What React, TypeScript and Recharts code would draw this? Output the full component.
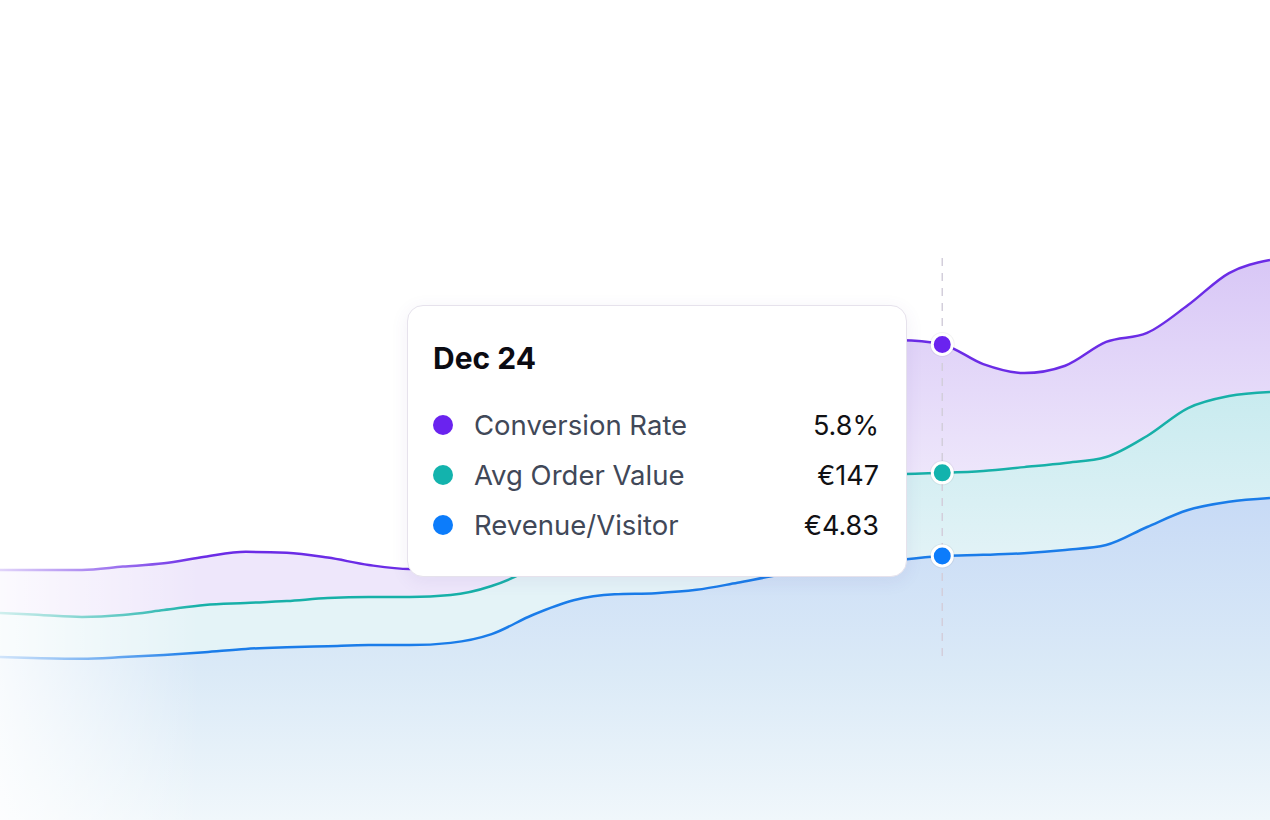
import React from "react";
import { ComposedChart, Area, Line, XAxis, YAxis } from "recharts";

// daily points, Dec 1 -> Jan 1
const dates = [
  "Dec 1", "Dec 2", "Dec 3", "Dec 4", "Dec 5", "Dec 6", "Dec 7", "Dec 8",
  "Dec 9", "Dec 10", "Dec 11", "Dec 12", "Dec 13", "Dec 14", "Dec 15", "Dec 16",
  "Dec 17", "Dec 18", "Dec 19", "Dec 20", "Dec 21", "Dec 22", "Dec 23", "Dec 24",
  "Dec 25", "Dec 26", "Dec 27", "Dec 28", "Dec 29", "Dec 30", "Dec 31", "Jan 1",
];

// conversion rate, %
const conversionRate = [
  3.05, 3.05, 3.05, 3.09, 3.13, 3.21, 3.27, 3.26, 3.2, 3.11, 3.06, 3.17, 3.54, 4.27, 5.0, 5.49,
  5.73, 5.83, 5.85, 5.85, 5.85, 5.85, 5.85, 5.8, 5.56, 5.45, 5.54, 5.83, 5.94, 6.28, 6.67, 6.83,
];

// average order value, EUR
const avgOrderValue = [
  95.7, 95, 94.3, 95, 96.8, 98.7, 99.4, 100.1, 101.2, 101.6, 101.6, 102.3, 105.6, 112.2, 122.4, 131.6,
  137.8, 141.5, 143.7, 144.8, 145.5, 145.9, 146.6, 147, 147.7, 149.1, 150.6, 152.8, 160.5, 170.7, 175.1, 176.6,
];

// revenue per visitor, EUR
const revenuePerVisitor = [
  2.98, 2.96, 2.95, 2.98, 3.02, 3.07, 3.13, 3.16, 3.18, 3.2, 3.2, 3.24, 3.4, 3.75, 4.02, 4.13,
  4.15, 4.21, 4.34, 4.48, 4.57, 4.66, 4.76, 4.83, 4.85, 4.88, 4.94, 5.03, 5.36, 5.67, 5.82, 5.89,
];

// hovered day
const activeIndex = 23;

const data = dates.map((date, i) => ({
  date,
  conversion: conversionRate[i],
  aov: avgOrderValue[i],
  rpv: revenuePerVisitor[i],
}));

const SERIES = [
  { key: "conversion", axis: "conv", name: "Conversion Rate", color: "#6a23ef", line: "#6b2ce6", fill: "url(#fillPurple)", values: conversionRate, fmt: (v: number) => `${v.toFixed(1)}%` },
  { key: "aov", axis: "aov", name: "Avg Order Value", color: "#13b3ad", line: "#17b0a8", fill: "url(#fillTeal)", values: avgOrderValue, fmt: (v: number) => `€${Math.round(v)}` },
  { key: "rpv", axis: "rpv", name: "Revenue/Visitor", color: "#0c7cfb", line: "#1a7ce9", fill: "url(#fillBlue)", values: revenuePerVisitor, fmt: (v: number) => `€${v.toFixed(2)}` },
];

const font = "Inter, 'Open Sans', sans-serif";

// marker for the hovered day; the first series also draws the dashed guide
function makeDot(color: string, withGuide: boolean) {
  return (p: any) => {
    if (p.index !== activeIndex) return <g key={`d${p.index}`} />;
    return (
      <g key={`d${p.index}`}>
        {withGuide && (
          <line x1={p.cx} x2={p.cx} y1={258} y2={660} stroke="#d3cedb" strokeWidth={1.5} strokeDasharray="8 7" />
        )}
        <circle cx={p.cx} cy={p.cy} r={12.5} fill="#000" fillOpacity={0.05} />
        <circle cx={p.cx} cy={p.cy} r={10} fill={color} stroke="#fff" strokeWidth={3} />
      </g>
    );
  };
}

function TooltipCard() {
  return (
    <div
      style={{
        position: "absolute",
        left: 407,
        top: 305,
        width: 500,
        height: 272,
        boxSizing: "border-box",
        background: "#fff",
        border: "1px solid #e6e2ec",
        borderRadius: 16,
        boxShadow: "0 4px 18px rgba(90,70,150,0.08)",
        padding: "34px 27px 0 25px",
        fontFamily: font,
      }}
    >
      <div style={{ fontSize: 30, fontWeight: 700, color: "#0b0b12", lineHeight: "36px", marginLeft: 0 }}>
        {dates[activeIndex]}
      </div>
      <div style={{ marginTop: 24 }}>
        {SERIES.map((s) => (
          <div key={s.key} style={{ display: "flex", alignItems: "center", height: 50 }}>
            <span style={{ width: 20, height: 20, borderRadius: 10, background: s.color, flexShrink: 0 }} />
            <span style={{ marginLeft: 21, fontSize: 27.5, color: "#414858", flex: 1 }}>{s.name}</span>
            <span style={{ fontSize: 27, color: "#111114" }}>{s.fmt(s.values[activeIndex])}</span>
          </div>
        ))}
      </div>
    </div>
  );
}

export default function App() {
  return (
    <div style={{ position: "absolute", left: 0, top: 0, width: 1270, height: 820, background: "#fff", overflow: "hidden" }}>
      <ComposedChart width={1270} height={820} data={data} margin={{ top: 0, right: 0, bottom: 0, left: 0 }}>
        <defs>
          <linearGradient id="fillPurple" gradientUnits="userSpaceOnUse" x1="0" y1="260" x2="0" y2="480">
            <stop offset="0%" stopColor="#d8c7f6" />
            <stop offset="100%" stopColor="#eee7fb" />
          </linearGradient>
          <linearGradient id="fillTeal" gradientUnits="userSpaceOnUse" x1="0" y1="390" x2="0" y2="570">
            <stop offset="0%" stopColor="#c8ebef" />
            <stop offset="100%" stopColor="#e4f3f7" />
          </linearGradient>
          <linearGradient id="fillBlue" gradientUnits="userSpaceOnUse" x1="0" y1="495" x2="0" y2="820">
            <stop offset="0%" stopColor="#c7daf6" />
            <stop offset="55%" stopColor="#dbeaf7" />
            <stop offset="100%" stopColor="#f0f7fb" />
          </linearGradient>
        </defs>
        <XAxis dataKey="date" hide />
        <YAxis yAxisId="conv" hide domain={[0, 10]} />
        <YAxis yAxisId="aov" hide domain={[20, 320]} />
        <YAxis yAxisId="rpv" hide domain={[0, 15]} />
        {SERIES.map((s) => (
          <Area
            key={`a-${s.key}`}
            yAxisId={s.axis}
            type="monotone"
            dataKey={s.key}
            name={s.name}
            stroke={s.line}
            strokeWidth={2.5}
            fill={s.fill}
            fillOpacity={1}
            dot={false}
            activeDot={false}
            isAnimationActive={false}
          />
        ))}
        {SERIES.map((s, i) => (
          <Line
            key={`m-${s.key}`}
            yAxisId={s.axis}
            type="monotone"
            dataKey={s.key}
            stroke="none"
            dot={makeDot(s.color, i === 0)}
            activeDot={false}
            legendType="none"
            isAnimationActive={false}
          />
        ))}
      </ComposedChart>
      {/* soft fade on the left edge */}
      <div
        style={{
          position: "absolute",
          left: 0,
          top: 0,
          width: 200,
          height: 820,
          pointerEvents: "none",
          background: "linear-gradient(to right, rgba(255,255,255,0.8), rgba(255,255,255,0))",
        }}
      />
      <TooltipCard />
    </div>
  );
}
